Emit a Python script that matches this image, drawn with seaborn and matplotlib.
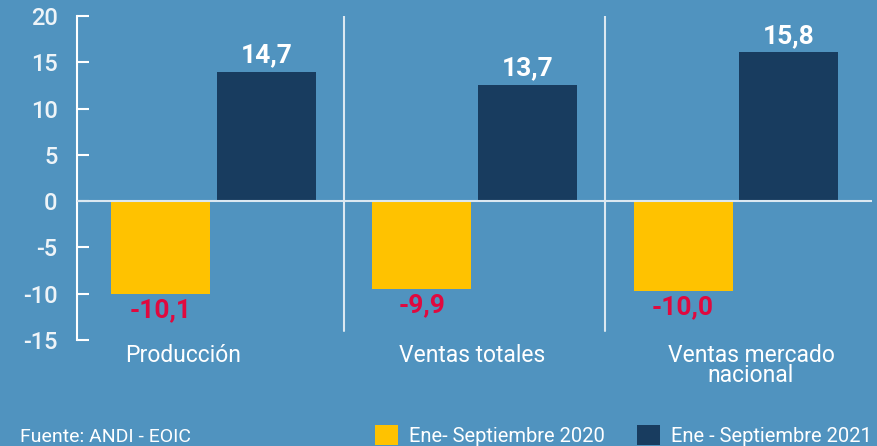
import matplotlib
matplotlib.use("Agg")
import matplotlib.pyplot as plt
import matplotlib.transforms as mtransforms
from matplotlib.patches import Patch
import pandas as pd
import seaborn as sns

categorias = ["Producción", "Ventas totales", "Ventas mercado\nnacional"]
periodos = ["Ene- Septiembre 2020", "Ene - Septiembre 2021"]
# bar heights as drawn in the source graphic
valores_2020 = [-10.0, -9.5, -9.7]
valores_2021 = [14.0, 12.6, 16.1]
# printed labels
etiquetas_2020 = ["-10,1", "-9,9", "-10,0"]
etiquetas_2021 = ["14,7", "13,7", "15,8"]
yticks = [-15, -10, -5, 0, 5, 10, 15, 20]
fuente = "Fuente: ANDI - EOIC"

FONDO = "#5093bf"
AMARILLO = "#ffc200"
AZUL = "#183c5f"
ROJO = "#e0093f"
CLARO = "#dbe8f1"

df = pd.DataFrame({
    "categoria": categorias * 2,
    "periodo": [periodos[0]] * 3 + [periodos[1]] * 3,
    "valor": valores_2020 + valores_2021,
})

sns.set_theme(style="white")
plt.rcParams["font.family"] = ["Roboto", "DejaVu Sans"]

fig = plt.figure(figsize=(8.77, 4.46), dpi=100, facecolor=FONDO)
ax = fig.add_axes([0.0878, 0.2377, 0.9065, 0.7264])
ax.set_facecolor(FONDO)

sns.barplot(data=df, x="categoria", y="valor", hue="periodo",
            palette=[AMARILLO, AZUL], width=0.81, gap=0.066,
            legend=False, ax=ax, saturation=1, linewidth=0, edgecolor="none")

for cont, labs, col in zip(ax.containers, [etiquetas_2020, etiquetas_2021], [ROJO, "white"]):
    ax.bar_label(cont, labels=labs, padding=3, color=col, fontsize=19, fontweight="bold")

ax.set_ylim(-15, 20)
ax.set_xlim(-0.5225, 2.5206)
ax.set_yticks(yticks)
ax.set_yticklabels([str(t) for t in yticks], fontsize=17, fontweight="medium", color="#eef4f8")
ax.tick_params(axis="y", direction="in", length=8.6, width=1.5, color="white", pad=14, left=True)
ax.tick_params(axis="x", length=0, pad=3, labelsize=16.5, labelcolor="white")
# the source graphic places the category names slightly off-centre
desplazamientos = [-30, -3, 15]
for lab, dx in zip(ax.get_xticklabels(), desplazamientos):
    lab.set_linespacing(0.85)
    lab.set_transform(lab.get_transform() + mtransforms.ScaledTranslation(dx / 100, 0, fig.dpi_scale_trans))
ax.set_xlabel("")
ax.set_ylabel("")

for s in ["top", "right", "bottom"]:
    ax.spines[s].set_visible(False)
ax.spines["left"].set_color("white")
ax.spines["left"].set_linewidth(1.5)

ax.axhline(0, color=CLARO, lw=1.5, zorder=5)
for i in range(len(categorias) - 1):
    ax.axvline(i + 0.5, ymin=0.028, ymax=1, color=CLARO, lw=1.5, zorder=0.5)

fig.text(20 / 877, 4.5 / 446, fuente, fontsize=14, color="white", va="baseline", ha="left")

handles = [Patch(facecolor=AMARILLO, edgecolor="none"), Patch(facecolor=AZUL, edgecolor="none")]
fig.legend(handles, periodos, loc="lower right", bbox_to_anchor=(872 / 877, 0.5 / 446),
           ncol=2, frameon=False, fontsize=14.5, labelcolor="white",
           handlelength=1.15, handleheight=1.15, handletextpad=0.55,
           columnspacing=1.6, borderpad=0, borderaxespad=0)

fig.savefig("out.png", dpi=100, facecolor=FONDO)
